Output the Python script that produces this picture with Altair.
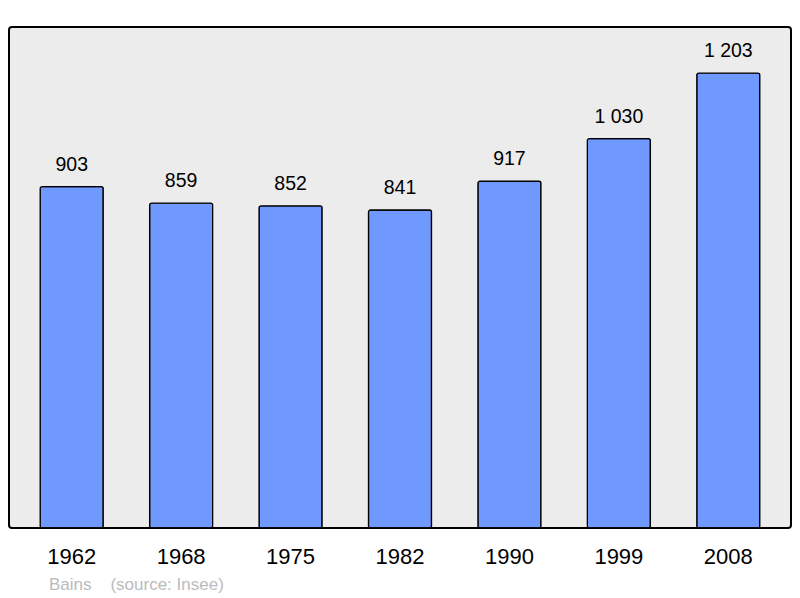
import altair as alt
import pandas as pd

years = ["1962", "1968", "1975", "1982", "1990", "1999", "2008"]
population = [903, 859, 852, 841, 917, 1030, 1203]

df = pd.DataFrame({"year": years, "pop": population})

base = alt.Chart(df).encode(
    x=alt.X("year:N", sort=None, title=None,
            scale=alt.Scale(paddingInner=0.424, paddingOuter=0.285),
            axis=alt.Axis(labelAngle=0, labelFontSize=22, labelFont="Liberation Sans",
                          labelColor="#000", ticks=False, domain=False, labelPadding=18)),
    y=alt.Y("pop:Q", title=None, scale=alt.Scale(domain=[0, 1325], nice=False),
            axis=None),
)

bars = base.mark_bar(color="#7099ff", stroke="#000", strokeWidth=1.3, cornerRadius=2)

labels = base.transform_calculate(
    label="replace(format(datum.pop, ','), ',', ' ')"
).mark_text(baseline="bottom", dy=-12, fontSize=19.5, font="Liberation Sans", color="#000").encode(
    text="label:N"
)

chart = (bars + labels).properties(
    width=782, height=501,
    padding={"left": 1, "top": 19, "right": 1, "bottom": 70},
    autosize=alt.AutoSizeParams(type="none"),
    background="#ffffff",
    title=alt.TitleParams("Bains\u00a0\u00a0\u00a0\u00a0(source: Insee)", orient="bottom", anchor="start",
                          dx=40, offset=10, fontSize=17, font="Liberation Sans",
                          fontWeight="normal", color="#bbbbbb"),
).configure_view(
    fill="#ececec", stroke="#000", strokeWidth=2, cornerRadius=3
)

chart.save("out.html", embed_options={"renderer": "svg", "actions": False})
